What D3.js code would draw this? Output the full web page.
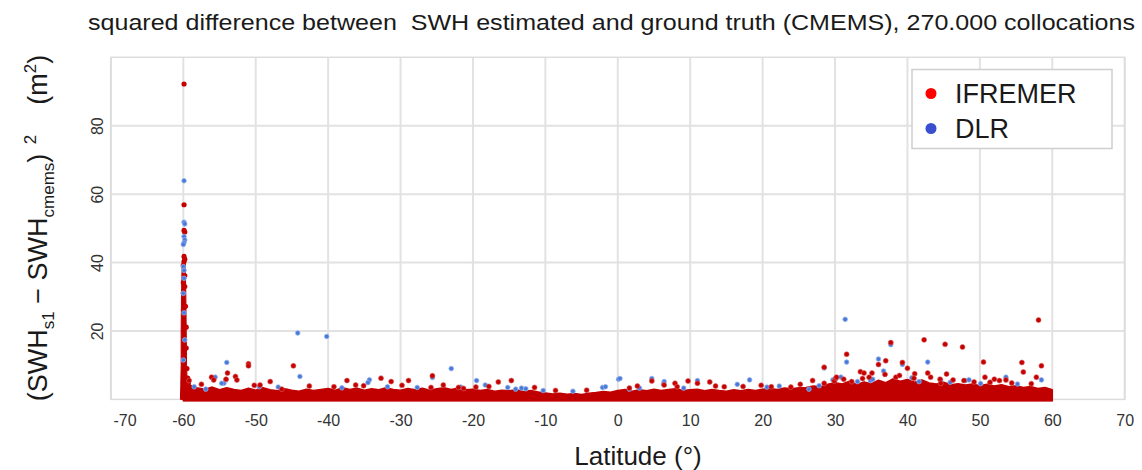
<!DOCTYPE html>
<html>
<head>
<meta charset="utf-8">
<script src="https://cdn.jsdelivr.net/npm/d3@7"></script>
<style>
  html, body { margin: 0; padding: 0; background: #fff; }
  svg { display: block; font-family: "Liberation Sans", Arial, sans-serif; }
</style>
</head>
<body>
<svg id="chart" width="1142" height="470"></svg>
<script>
// ---------------- data ----------------
const titleText = "squared difference between  SWH estimated and ground truth (CMEMS), 270.000 collocations";
const xTicks = [-70, -60, -50, -40, -30, -20, -10, 0, 10, 20, 30, 40, 50, 60, 70];
const yTicks = [20, 40, 60, 80];
const seriesNames = ["IFREMER", "DLR"];

// upper edge of the saturated (dense) cloud of collocations, per degree of latitude
const bandLat = [-60,-59,-58,-57,-56,-55,-54,-53,-52,-51,-50,-49,-48,-47,-46,-45,-44,-43,-42,-41,
  -40,-39,-38,-37,-36,-35,-34,-33,-32,-31,-30,-29,-28,-27,-26,-25,-24,-23,-22,-21,
  -20,-19,-18,-17,-16,-15,-14,-13,-12,-11,-10,-9,-8,-7,-6,-5,-4,-3,-2,-1,
  0,1,2,3,4,5,6,7,8,9,10,11,12,13,14,15,16,17,18,19,
  20,21,22,23,24,25,26,27,28,29,30,31,32,33,34,35,36,37,38,39,
  40,41,42,43,44,45,46,47,48,49,50,51,52,53,54,55,56,57,58,59,60];
const bandTop = [3.8,4.1,3.3,3.0,3.6,2.8,3.4,2.9,2.6,3.3,2.7,3.4,2.8,2.5,3.1,2.7,2.4,3.0,2.6,2.9,
  3.2,2.7,3.4,2.9,3.3,2.7,3.1,2.8,3.4,2.9,2.7,3.2,2.8,3.3,2.7,3.1,3.4,2.9,3.3,2.8,
  3.0,2.6,2.9,2.4,2.7,2.5,2.8,2.3,2.6,2.2,1.9,1.6,1.8,1.5,1.7,1.4,1.8,2.0,2.3,2.1,
  2.6,2.9,2.4,2.8,2.5,3.0,2.6,2.9,3.1,2.6,2.8,3.0,2.5,2.9,2.6,2.4,2.8,2.5,2.9,2.6,
  3.0,3.2,2.9,3.3,3.1,3.4,3.5,3.9,3.7,4.4,4.9,4.5,5.3,4.4,5.1,4.6,5.6,4.9,6.0,5.3,
  5.8,5.0,5.7,4.8,4.5,5.0,4.3,4.6,4.2,4.5,4.0,4.4,3.9,4.3,3.7,4.0,3.5,3.8,3.2,3.5,2.8];

// the dense column of collocations at the -60° edge: value, left and right latitude of the column
const columnVal   = [0, 4, 10, 20, 30, 36, 40];
const columnLeft  = [-60.4, -60.35, -60.3, -60.3, -60.25, -60.2, -60.15];
const columnRight = [-59.3, -59.45, -59.55, -59.6, -59.65, -59.7, -59.75];

// IFREMER: isolated points along the -60° column
const ifremerSpike = [[-59.9,92.2],[-59.9,56.9],[-59.9,49.4],[-59.8,48.9],[-59.9,41.8],[-59.8,41.0],[-59.9,40.3],
  [-60.0,39.2],[-59.8,36.2],[-60.0,34.1],[-59.8,33.0],[-60.0,31.1],[-59.7,27.2],[-59.6,21.1],[-59.6,15.0],
  [-59.5,9.0],[-59.4,6.2],[-59.3,4.6]];
// IFREMER: isolated collocations above the dense cloud
const ifremerPoints = [[-59.2,5.5],[-56.1,6.5],[-55.8,5.7],[-53.9,7.7],[-54.1,5.9],[-52.8,6.7],[-52.6,5.7],
  [-51.0,10.4],[-51.0,9.8],[-48.0,5.2],[-49.4,4.2],[-46.4,3.0],[-44.8,9.8],[-39.2,3.7],[-37.4,5.5],[-36.2,4.2],
  [-32.7,6.2],[-31.3,5.2],[-28.9,5.5],[-25.6,6.9],[-25.8,3.5],[-22.0,3.5],[-21.3,3.2],[-19.6,3.6],[-16.5,5.1],
  [-14.7,5.5],[-11.5,3.5],[1.6,3.3],[4.7,5.4],[6.4,4.2],[7.9,4.7],[8.2,3.7],[9.7,5.4],[11.0,4.7],[12.7,5.1],
  [14.7,3.7],[21.2,3.7],[23.9,3.6],[26.9,5.5],[28.5,9.4],[28.5,4.7],[29.9,5.4],[30.1,6.2],[30.2,6.5],[31.6,13.2],
  [32.3,5.2],[33.5,8.1],[34.0,7.7],[35.1,7.7],[34.7,6.5],[36.0,10.2],[37.0,11.3],[36.9,7.3],[37.7,16.6],[38.4,6.5],
  [39.3,10.8],[40.0,9.1],[41.0,7.5],[40.9,6.2],[42.3,17.4],[42.8,7.7],[43.2,6.5],[44.5,5.9],[44.6,4.7],[45.2,16.1],
  [45.4,7.4],[47.6,15.3],[47.8,5.5],[50.5,10.9],[50.7,6.5],[52.0,5.9],[52.7,5.5],[53.6,5.7],[55.8,10.8],
  [56.0,8.0],[57.8,6.5],[58.1,23.2],[58.5,9.8],
  [-57.5,4.4],[-50.2,4.1],[-42.6,3.9],[-35.1,4.0],[-29.8,4.1],[-24.1,4.2],[-17.8,3.8],[-8.6,2.6],[-4.3,2.7],
  [2.7,3.9],[13.5,3.9],[17.3,3.8],[19.8,4.1],[25.2,4.4],[31.2,5.9],[33.8,6.1],[38.9,7.0],[46.3,5.7],[49.2,5.1],
  [51.4,5.0],[54.4,4.8],[57.1,4.6]];
// DLR points
const dlrPoints = [[-59.9,63.9],[-59.9,51.8],[-59.8,51.3],[-59.9,47.6],[-59.8,46.6],[-59.9,45.8],[-60.0,45.3],
  [-60.0,38.8],[-59.9,37.7],[-59.9,35.4],[-60.0,31.0],[-59.9,25.3],[-59.8,17.4],[-60.0,11.5],
  [-58.5,3.7],[-56.9,3.0],[-55.6,6.5],[-54.0,10.8],[-54.4,4.7],[-54.1,5.7],[-54.7,4.7],[-51.0,10.0],[-49.5,3.7],
  [-44.2,19.4],[-43.9,6.7],[-40.2,18.4],[-34.3,5.7],[-34.5,4.9],[-31.8,3.7],[-27.7,3.5],[-25.6,6.4],[-23.0,9.0],
  [-19.5,5.5],[-18.3,4.2],[-15.2,3.5],[-14.1,3.0],[-13.3,3.3],[-12.7,3.1],[-10.3,2.6],[-2.1,3.5],[-1.7,3.7],
  [0.1,5.9],[0.3,6.1],[1.6,3.0],[3.0,3.3],[4.7,6.1],[6.4,5.2],[6.3,4.5],[11.0,5.5],[16.5,4.4],[18.2,5.7],
  [22.3,3.9],[26.4,3.0],[28.5,9.2],[29.7,5.7],[30.0,5.7],[30.8,6.5],[31.4,23.4],[31.6,10.9],[33.1,5.2],[34.9,5.5],
  [35.2,5.9],[36.0,11.8],[36.7,8.3],[37.7,16.0],[39.3,10.2],[41.6,5.2],[42.8,10.9],[44.6,5.7],[48.0,5.5],
  [48.5,5.7],[53.6,6.5],[55.2,4.5],[58.5,5.7],
  [-46.9,3.6],[-38.1,3.4],[-21.7,3.6],[-6.2,2.4],[9.1,3.3],[20.6,3.6],[27.8,4.0],[40.6,6.3],[45.9,5.0],[50.1,4.6]];

// ---------------- drawing ----------------
const svg = d3.select("#chart");
const W = 1142, H = 470;
const plot = { left: 110.9, right: 1124.7, top: 57.3, bottom: 399.4 };

const x = d3.scaleLinear().domain([-70, 70]).range([plot.left, plot.right]);
const y = d3.scaleLinear().domain([0, 100]).range([plot.bottom, plot.top]);

const red = "#c40000", blue = "#4a78d8";
const gridColor = "#e2e2e2";

svg.append("rect").attr("width", W).attr("height", H).attr("fill", "#fff");

// title
svg.append("text")
  .attr("x", 88).attr("y", 30)
  .attr("font-size", 22).attr("fill", "#1a1a1a")
  .attr("textLength", 1047).attr("lengthAdjust", "spacingAndGlyphs")
  .style("white-space", "pre")
  .text(titleText);

// grid
const g = svg.append("g");
g.selectAll("line.vx").data(xTicks).join("line")
  .attr("x1", d => x(d)).attr("x2", d => x(d))
  .attr("y1", plot.top).attr("y2", plot.bottom)
  .attr("stroke", gridColor).attr("stroke-width", 2);
g.selectAll("line.hy").data(yTicks).join("line")
  .attr("x1", plot.left).attr("x2", plot.right)
  .attr("y1", d => y(d)).attr("y2", d => y(d))
  .attr("stroke", gridColor).attr("stroke-width", 2);
g.append("rect")
  .attr("x", plot.left).attr("y", plot.top)
  .attr("width", plot.right - plot.left).attr("height", plot.bottom - plot.top)
  .attr("fill", "none").attr("stroke", "#dcdcdc").attr("stroke-width", 1.5);

// x axis tick labels
const xAxis = d3.axisBottom(x).tickValues(xTicks).tickSize(0).tickPadding(14).tickFormat(d3.format("d"));
const xg = svg.append("g").attr("transform", `translate(0,${plot.bottom + 1})`).call(xAxis);
xg.select(".domain").remove();
xg.selectAll("text").attr("font-size", 16).attr("fill", "#333")
  .attr("font-family", "'Liberation Sans', Arial, sans-serif")
  .text(d => String(d).replace("−", "-"));
// first label is kept inside the frame, as in the original
xg.selectAll(".tick").filter(d => d === xTicks[0]).select("text")
  .attr("text-anchor", "start").attr("x", 2);

// y axis tick labels (rotated)
const yAxis = d3.axisLeft(y).tickValues(yTicks).tickSize(0).tickFormat(d3.format("d"));
const yg = svg.append("g").attr("transform", `translate(${plot.left},0)`).call(yAxis);
yg.select(".domain").remove();
yg.selectAll(".tick text")
  .attr("x", null).attr("dy", null)
  .attr("font-size", 16).attr("fill", "#333")
  .attr("font-family", "'Liberation Sans', Arial, sans-serif")
  .attr("text-anchor", "middle")
  .attr("transform", "translate(-8,0) rotate(-90)");

// axis titles
svg.append("text")
  .attr("x", 638).attr("y", 465)
  .attr("text-anchor", "middle").attr("font-size", 26).attr("fill", "#1a1a1a")
  .text("Latitude (°)");

const yl = svg.append("text")
  .attr("transform", "translate(47,228) rotate(-90)")
  .attr("text-anchor", "middle").attr("font-size", 27).attr("fill", "#1a1a1a")
  .style("white-space", "pre");
yl.append("tspan").text("(SWH");
yl.append("tspan").attr("font-size", 17).attr("dy", 7).text("s1");
yl.append("tspan").attr("dy", -7).text(" − SWH");
yl.append("tspan").attr("font-size", 17).attr("dy", 7).text("cmems");
yl.append("tspan").attr("dy", -7).text(")");
yl.append("tspan").attr("font-size", 17).attr("dy", -11).text("  2");
yl.append("tspan").attr("dy", 11).text("    (m");
yl.append("tspan").attr("font-size", 17).attr("dy", -11).text("2");
yl.append("tspan").attr("dy", 11).text(")");

// data marks
const clip = svg.append("defs").append("clipPath").attr("id", "clip");
clip.append("rect").attr("x", plot.left).attr("y", plot.top - 2)
  .attr("width", plot.right - plot.left).attr("height", plot.bottom - plot.top + 4);
const marks = svg.append("g").attr("clip-path", "url(#clip)");

const bandData = bandLat.map((d, i) => [d, bandTop[i]]);
const area = d3.area()
  .x(d => x(d[0]))
  .y0(y(0) + 2)
  .y1(d => y(d[1]))
  .curve(d3.curveLinear);
marks.append("path").datum(bandData)
  .attr("d", area).attr("fill", "#c00000")
  .attr("stroke", "#c00000").attr("stroke-width", 1.5).attr("stroke-linejoin", "round");

const columnData = columnVal.map((v, i) => ({ v, l: columnLeft[i], r: columnRight[i] }));
const columnArea = d3.area()
  .y(d => y(d.v))
  .x0(d => x(d.l))
  .x1(d => x(d.r))
  .curve(d3.curveLinear);
marks.append("path").datum(columnData)
  .attr("d", columnArea).attr("fill", "#c00000")
  .attr("stroke", "#c00000").attr("stroke-width", 1).attr("stroke-linejoin", "round");

marks.selectAll("circle.spike").data(ifremerSpike).join("circle")
  .attr("class", "spike")
  .attr("cx", d => x(d[0])).attr("cy", d => y(d[1])).attr("r", 2.6)
  .attr("fill", red);

marks.selectAll("circle.dlr").data(dlrPoints).join("circle")
  .attr("class", "dlr")
  .attr("cx", d => x(d[0])).attr("cy", d => y(d[1])).attr("r", 2.3)
  .attr("fill", blue).attr("stroke", "#8fb0ec").attr("stroke-width", 0.8);

marks.selectAll("circle.ifr").data(ifremerPoints).join("circle")
  .attr("class", "ifr")
  .attr("cx", d => x(d[0])).attr("cy", d => y(d[1])).attr("r", 2.5)
  .attr("fill", red).attr("stroke", "#dd6060").attr("stroke-width", 0.6);

// legend
const lg = svg.append("g");
lg.append("rect").attr("x", 912).attr("y", 69.5).attr("width", 200).attr("height", 79)
  .attr("fill", "#fff").attr("stroke", "#cfcfcf").attr("stroke-width", 1.5);
const legendColors = ["#ff0000", "#3a4fd0"];
seriesNames.forEach((name, i) => {
  const cy = 93.5 + i * 35;
  lg.append("circle").attr("cx", 931).attr("cy", cy).attr("r", 5.5).attr("fill", legendColors[i]);
  lg.append("text").attr("x", 955).attr("y", cy + 9.5)
    .attr("font-size", 27).attr("fill", "#1a1a1a").text(name);
});
</script>
</body>
</html>
